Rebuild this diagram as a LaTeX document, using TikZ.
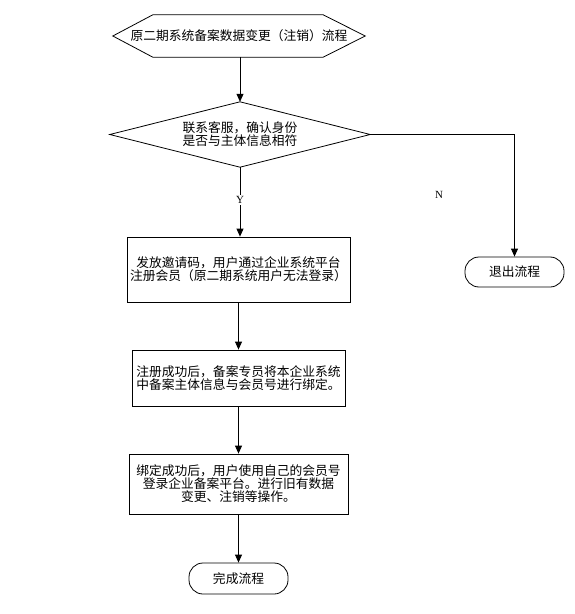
\documentclass[tikz,border=0pt]{standalone}
\usepackage{fontspec}
\setmainfont{Liberation Serif}
\newfontfamily\cjk{Noto Sans CJK SC}
\usetikzlibrary{arrows.meta}
\begin{document}
\begin{tikzpicture}[x=1bp,y=-1bp,
  every node/.style={font=\cjk\fontsize{12.8}{13}\selectfont, align=center, inner sep=0pt},
  procbox/.style={draw, line width=0.8bp, rectangle},
  termbox/.style={draw, line width=0.8bp, rectangle, rounded corners=14bp, minimum width=99bp, minimum height=31bp},
  lab/.style={font=\fontsize{11}{11}\selectfont, fill=white, inner sep=1.5bp},
  flow/.style={line width=0.8bp, -{Triangle[length=8bp,width=7bp]}}
]
\useasboundingbox (0,0) rectangle (575,614);
% start hexagon
\node[minimum width=252bp, minimum height=42bp] (start) at (239,36) {原二期系统备案数据变更（注销）流程};
\draw[line width=0.8bp] (start.west) -- ([xshift=40bp]start.north west) -- ([xshift=-42bp]start.north east)
  -- (start.east) -- ([xshift=-42bp]start.south east) -- ([xshift=40bp]start.south west) -- cycle;
% decision
\node[minimum width=260bp, minimum height=65bp] (dec) at (240,134.5) {联系客服，确认身份\\是否与主体信息相符};
\draw[line width=0.8bp] (dec.north) -- (dec.east) -- (dec.south) -- (dec.west) -- cycle;
% boxes
\node[procbox, minimum width=223bp, minimum height=65bp] (b1) at (238.5,269.5) {发放邀请码，用户通过企业系统平台\\注册会员（原二期系统用户无法登录）};
\node[procbox, minimum width=213bp, minimum height=56bp] (b2) at (238.5,378) {注册成功后，备案专员将本企业系统\\中备案主体信息与会员号进行绑定。};
\node[procbox, minimum width=219bp, minimum height=60bp] (b3) at (238.5,484) {绑定成功后，用户使用自己的会员号\\登录企业备案平台。进行旧有数据\\变更、注销等操作。};
\node[termbox] (fin) at (238.5,578.5) {完成流程};
\node[termbox, minimum height=30bp] (exit) at (514.5,272) {退出流程};
% connectors
\draw[flow] (start.south -| dec.north) -- (dec.north);
\draw[flow] (dec.south) -- (b1.north -| dec.south);
\node[lab] (ylab) at (240,200) {Y};
\draw[flow] (b1.south) -- (b2.north);
\draw[flow] (b2.south) -- (b3.north);
\draw[flow] (b3.south) -- (fin.north);
\draw[flow] (dec.east) -| (exit.north);
\node[lab] (nlab) at (439,195) {N};
\end{tikzpicture}
\end{document}
